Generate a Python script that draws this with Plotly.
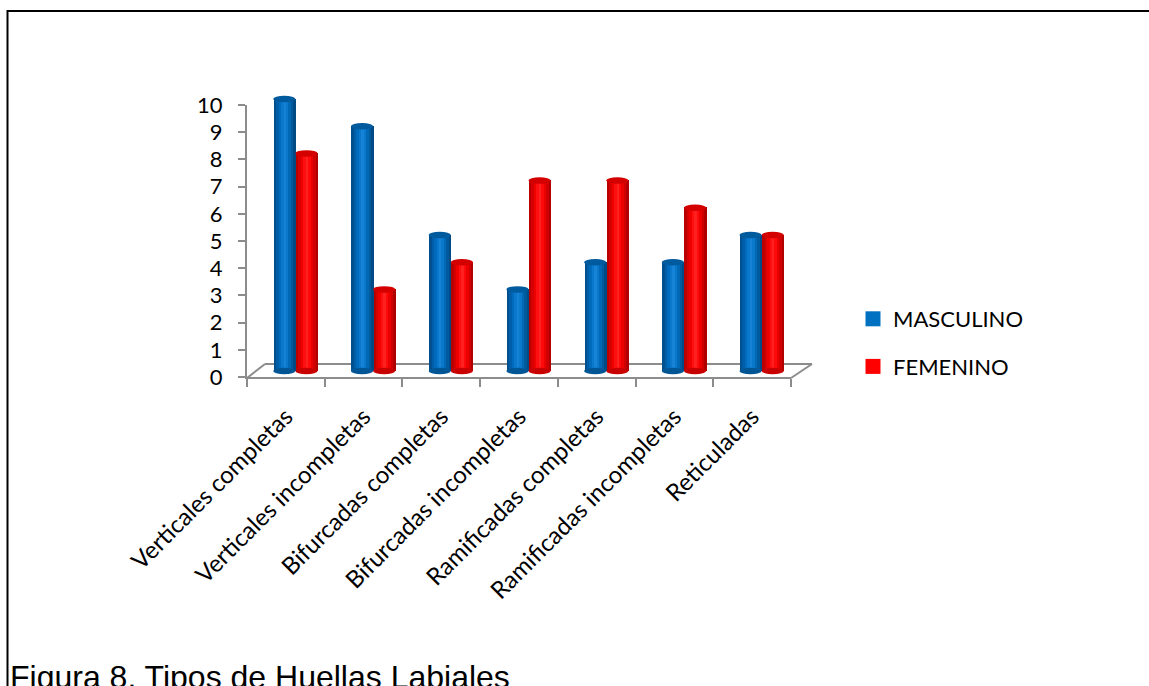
import plotly.graph_objects as go

categories = ["Verticales completas", "Verticales incompletas", "Bifurcadas completas",
              "Bifurcadas incompletas", "Ramificadas completas", "Ramificadas incompletas",
              "Reticuladas"]
masculino = [10, 9, 5, 3, 4, 4, 5]
femenino = [8, 3, 4, 7, 7, 6, 5]
y_ticks = list(range(0, 11))

W, H = 1149, 686
def px(x): return x / W
def py(y): return 1 - y / H

idx = list(range(len(categories)))
BW = 0.285  # bar width in category units
FONT = "Lato, Carlito, sans-serif"

series = [
    dict(name="MASCULINO", vals=masculino, start=-BW, base="#0070C0", top="#005a9e", bottom="#005595",
         grad=["#004f8f", "#005ea8", "#006bbd", "#0a78cc", "#1683d6", "#0a79cc", "#0068b5", "#005a9e", "#004b85"]),
    dict(name="FEMENINO", vals=femenino, start=0.0, base="#FF0000", top="#d40000", bottom="#c80000",
         grad=["#b80000", "#d60000", "#ee0000", "#ff1010", "#ff2020", "#ff0a0a", "#ea0000", "#d00000", "#b00000"]),
]

fig = go.Figure()
shapes = []
for s in series:
    fig.add_trace(go.Bar(x=idx, y=s["vals"], offset=s["start"], width=BW, name=s["name"],
                         marker=dict(color=s["base"], line=dict(width=0)), showlegend=False,
                         legendgroup=s["name"], xaxis="x", yaxis="y", hoverinfo="skip"))
    n = len(s["grad"])
    sw = BW / n
    for k, c in enumerate(s["grad"]):
        fig.add_trace(go.Bar(x=idx, y=s["vals"], offset=s["start"] + k * sw, width=sw * 1.02,
                             marker=dict(color=c, line=dict(width=0)), showlegend=False,
                             legendgroup=s["name"], xaxis="x", yaxis="y", hoverinfo="skip"))
    # legend proxy
    fig.add_trace(go.Scatter(x=[None], y=[None], mode="markers", name=s["name"], legendgroup=s["name"],
                             marker=dict(symbol="square", size=15, color=s["base"]),
                             showlegend=True, xaxis="x", yaxis="y", hoverinfo="skip"))
    for i, v in zip(idx, s["vals"]):
        x0 = i + s["start"]
        x1 = x0 + BW
        shapes.append(dict(type="circle", xref="x", yref="y", x0=x0, x1=x1, y0=-0.12, y1=0.12,
                           fillcolor=s["bottom"], line=dict(width=0), layer="above"))
        shapes.append(dict(type="circle", xref="x", yref="y", x0=x0, x1=x1, y0=v - 0.12, y1=v + 0.12,
                           fillcolor=s["top"], line=dict(width=0), layer="above"))

fig.add_trace(go.Scatter(x=[None], y=[None], xaxis="x2", yaxis="y2", showlegend=False))

gray = "#8c8c8c"
floor = [((265, 364), (812, 364)), ((247, 378), (265, 364)), ((791, 378), (812, 364))]
for (a, b) in floor:
    shapes.append(dict(type="line", xref="paper", yref="paper", x0=px(a[0]), y0=py(a[1]),
                       x1=px(b[0]), y1=py(b[1]), line=dict(color=gray, width=2), layer="below"))
shapes.append(dict(type="rect", xref="paper", yref="paper", x0=px(7.5), x1=px(1160), y0=py(700), y1=py(11),
                   line=dict(color="black", width=2), fillcolor="rgba(0,0,0,0)", layer="below"))

fig.update_layout(
    template="none",
    width=W, height=H, autosize=False,
    margin=dict(l=0, r=0, t=0, b=0, pad=0, autoexpand=False),
    paper_bgcolor="white", plot_bgcolor="rgba(0,0,0,0)",
    barmode="overlay", bargap=0,
    font=dict(family=FONT, size=22, color="black"),
    shapes=shapes,
    xaxis=dict(domain=[px(256.5), px(800.5)], range=[-0.5, 6.5], visible=False, anchor="y", automargin=False),
    yaxis=dict(domain=[py(384.6), py(85.4)], range=[-0.5, 10.5], visible=False, anchor="x", automargin=False),
    xaxis2=dict(domain=[px(247), px(791)], range=[-0.5, 6.5], anchor="y2", automargin=False,
                showline=True, linecolor=gray, linewidth=2, showgrid=False, zeroline=False,
                tickmode="array", tickvals=idx, ticktext=categories, tickangle=-45,
                ticks="", ticklabelstandoff=14,
                tickfont=dict(size=24, family=FONT, color="black"),
                minor=dict(tickmode="array", tickvals=[i - 0.5 for i in range(len(categories) + 1)],
                           ticks="outside", ticklen=8, tickwidth=2, tickcolor=gray, showgrid=False)),
    yaxis2=dict(domain=[py(377), py(105)], range=[0, 10], anchor="x2", automargin=False,
                showline=True, linecolor=gray, linewidth=2, showgrid=False, zeroline=False,
                tickmode="array", tickvals=y_ticks, ticks="outside", ticklen=7, tickwidth=2,
                tickcolor=gray, ticklabelstandoff=11,
                tickfont=dict(size=22, family=FONT, color="black")),
    legend=dict(x=px(853), y=py(298), xanchor="left", yanchor="top", bgcolor="rgba(0,0,0,0)",
                font=dict(size=22, family=FONT, color="black"),
                traceorder="grouped", tracegroupgap=16, itemclick=False),
    annotations=[dict(text="Figura 8. Tipos de Huellas Labiales", xref="paper", yref="paper",
                      x=px(8), y=py(657), xanchor="left", yanchor="top", showarrow=False,
                      font=dict(family="Liberation Sans, Arial, sans-serif", size=32, color="black"))],
)

fig.write_html("out.html", config={"displayModeBar": False},
               post_script="document.body.style.margin='0';document.body.style.overflow='hidden';")
